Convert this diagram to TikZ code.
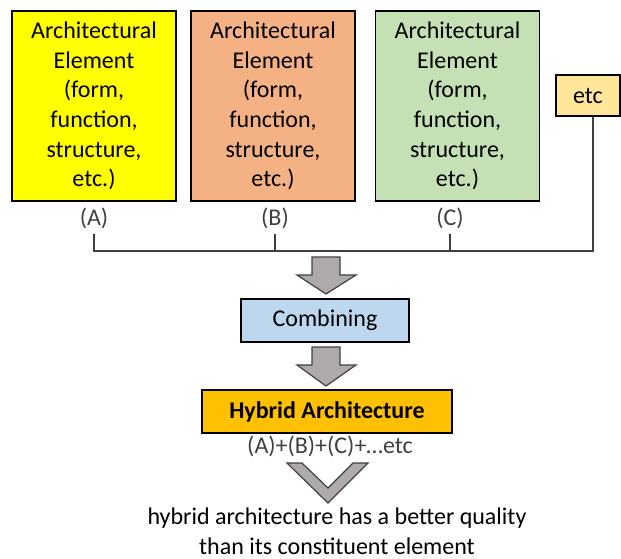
\documentclass[tikz,border=0pt]{standalone}
\usepackage{fontspec}
\setmainfont{Carlito}
\usepackage{xcolor}
\definecolor{elemA}{HTML}{FFFF00}
\definecolor{elemB}{HTML}{F4B183}
\definecolor{elemC}{HTML}{C5E0B4}
\definecolor{etcfill}{HTML}{FFE699}
\definecolor{combfill}{HTML}{BDD7EE}
\definecolor{hybfill}{HTML}{FFC000}
\definecolor{arrowfill}{HTML}{AEAAAA}
\definecolor{darkline}{HTML}{404040}

\begin{document}
\begin{tikzpicture}[
  x=0.5pt, y=-0.5pt,
  every node/.style={font=\fontsize{12}{14.8}\selectfont},
  element/.style={draw=black, line width=0.75pt, minimum width=82pt, minimum height=95pt, inner sep=0pt, align=center},
  flatbox/.style={draw=black, line width=0.75pt, minimum height=21.5pt, inner sep=0pt},
  lbl/.style={text=darkline, inner sep=2.5pt},
  link/.style={draw=darkline, line width=1pt},
  blockarrow/.style={fill=arrowfill, draw=darkline, line width=0.6pt, line join=miter}
]
\useasboundingbox (0,0) rectangle (621,558);

% the elements
\node[element, fill=elemA] (elemA) at (94,106) {Architectural\\Element\\(form,\\function,\\structure,\\etc.)};
\node[element, fill=elemB] (elemB) at (273,106) {Architectural\\Element\\(form,\\function,\\structure,\\etc.)};
\node[element, fill=elemC] (elemC) at (457.5,106) {Architectural\\Element\\(form,\\function,\\structure,\\etc.)};
\node[flatbox, fill=etcfill, minimum width=32pt, minimum height=20.5pt] (etc) at (588,95.5) {etc};

\node[lbl] (la) at (94,218) {(A)};
\node[lbl] (lb) at (275,218) {(B)};
\node[lbl] (lc) at (450,218) {(C)};

% joining line
\coordinate (bus) at (593,251);
\draw[link] (la.south) |- (bus) -- (bus |- etc.south);
\draw[link] (lb.south) -- (lb.south |- bus);
\draw[link] (lc.south) -- (lc.south |- bus);

% block arrows
\foreach \top/\neck/\tip in {257/275/294, 347/365/386}
  \draw[blockarrow] (312,\top) -- (340,\top) -- (340,\neck) -- (356,\neck)
    -- (326,\tip) -- (297,\neck) -- (312,\neck) -- cycle;

\node[flatbox, fill=combfill, minimum width=84pt] (comb) at (325,320.5) {Combining};
\node[flatbox, fill=hybfill, minimum width=125pt, font=\fontsize{12}{14.8}\selectfont\bfseries] (hybrid) at (327,411.5) {Hybrid Architecture};
\node[lbl] (sum) at (330,446) {(A)+(B)+(C)+…etc};

% chevron
\draw[blockarrow] (287,463) -- (302,463) -- (328,488) -- (353,463) -- (368,463) -- (328,503) -- cycle;

\node[align=center, inner sep=0pt] (result) at (337,531) {hybrid architecture has a better quality\\than its constituent element};
\end{tikzpicture}
\end{document}
